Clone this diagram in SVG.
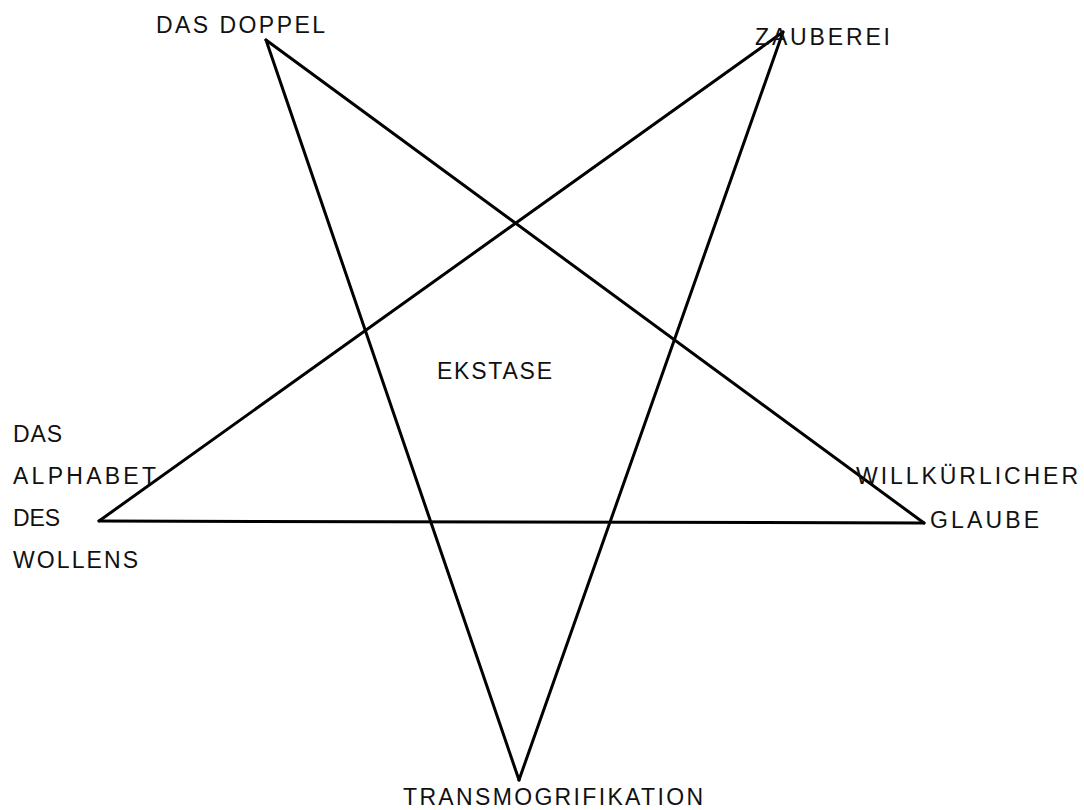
<svg xmlns="http://www.w3.org/2000/svg" width="1084" height="810" viewBox="0 0 1084 810">
<style>
.lbl{font-family:"Liberation Sans",Arial,sans-serif;font-size:23px;fill:#111;}
.edge{stroke:#000;stroke-width:3;stroke-linecap:round;fill:none;}
</style>
<rect width="1084" height="810" fill="#fff"/>
<g id="connectors">
<line class="edge" x1="266" y1="40" x2="519" y2="780"/>
<line class="edge" x1="266" y1="40" x2="924" y2="523"/>
<line class="edge" x1="783" y1="32" x2="99" y2="521"/>
<line class="edge" x1="783" y1="32" x2="519" y2="780"/>
<line class="edge" x1="99" y1="521" x2="924" y2="523"/>
</g>
<g id="das-doppel"><text class="lbl" x="156" y="33" textLength="169" lengthAdjust="spacing">DAS DOPPEL</text></g>
<g id="zauberei"><text class="lbl" x="755" y="45" textLength="135" lengthAdjust="spacing">ZAUBEREI</text></g>
<g id="ekstase"><text class="lbl" x="437" y="379" textLength="115" lengthAdjust="spacing">EKSTASE</text></g>
<g id="alphabet-des-wollens">
<text class="lbl" x="13" y="442" textLength="49" lengthAdjust="spacing">DAS</text>
<text class="lbl" x="13" y="484" textLength="143" lengthAdjust="spacing">ALPHABET</text>
<text class="lbl" x="13" y="526" textLength="47" lengthAdjust="spacing">DES</text>
<text class="lbl" x="13" y="568" textLength="125" lengthAdjust="spacing">WOLLENS</text>
</g>
<g id="willkuerlicher-glaube">
<text class="lbl" x="856" y="484" textLength="222" lengthAdjust="spacing">WILLKÜRLICHER</text>
<text class="lbl" x="930" y="528" textLength="109" lengthAdjust="spacing">GLAUBE</text>
</g>
<g id="transmogrifikation"><text class="lbl" x="403" y="805" textLength="300" lengthAdjust="spacing">TRANSMOGRIFIKATION</text></g>
</svg>
